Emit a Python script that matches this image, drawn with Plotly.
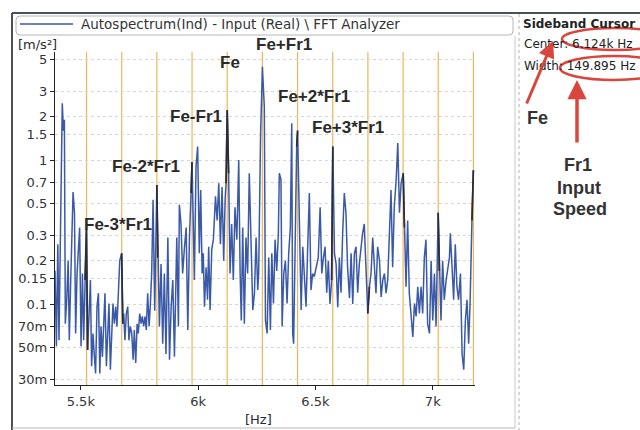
import plotly.graph_objects as go

# ---------------- data ----------------
freq_hz = [
    5373, 5379, 5385, 5390, 5396, 5402, 5407, 5413, 5417, 5421, 5426, 5430, 5434, 5440, 5446, 5451,
    5457, 5463, 5467, 5473, 5478, 5484, 5490, 5495, 5501, 5507, 5512, 5518, 5524, 5529, 5535, 5541,
    5546, 5552, 5558, 5563, 5569, 5575, 5581, 5586, 5592, 5598, 5603, 5609, 5615, 5620, 5626, 5632,
    5637, 5643, 5649, 5654, 5660, 5666, 5674, 5679, 5683, 5688, 5694, 5700, 5705, 5711, 5717, 5723,
    5728, 5734, 5740, 5745, 5751, 5757, 5762, 5768, 5774, 5779, 5785, 5791, 5796, 5802, 5808,
    5815, 5824, 5828, 5835, 5842, 5849, 5856, 5863, 5871, 5878, 5885, 5892, 5899, 5909, 5916, 5920,
    5927, 5934, 5942, 5949, 5956, 5963, 5970, 5974, 5984, 5991, 5998, 6005, 6011, 6017, 6022, 6027,
    6034, 6040, 6045, 6051, 6058, 6065, 6074, 6081, 6088, 6095, 6102, 6109, 6115, 6119, 6124, 6130,
    6136, 6143, 6150, 6157, 6165, 6173, 6179, 6184, 6190, 6197, 6204, 6211, 6218, 6226, 6233, 6240,
    6247, 6254, 6258, 6266, 6274, 6282, 6287,
    6294, 6301, 6308, 6314, 6321, 6328, 6335, 6342, 6346, 6353, 6358, 6365, 6372, 6379, 6386, 6393,
    6399, 6403, 6407, 6413, 6420, 6424, 6432, 6439, 6446, 6453, 6460, 6467, 6474, 6481, 6488, 6495,
    6503, 6512, 6520, 6527, 6534, 6541, 6548, 6555, 6562, 6569, 6574, 6581, 6588, 6595, 6602, 6609,
    6616, 6623, 6630, 6637, 6645, 6652, 6659, 6666, 6673, 6680, 6687, 6694, 6701, 6708, 6716,
    6723, 6730, 6737, 6744, 6751, 6758, 6765, 6773, 6780, 6787, 6794, 6801, 6808, 6815, 6822, 6829,
    6836, 6844, 6851, 6858, 6865, 6874, 6879, 6886, 6893, 6900, 6907, 6915, 6922, 6929, 6936, 6943,
    6950, 6957, 6964, 6971, 6978, 6986, 6993, 7000, 7007, 7014, 7023, 7028, 7035, 7042, 7049, 7057,
    7064, 7071, 7075, 7082, 7089, 7096, 7103, 7110, 7118, 7125, 7132, 7139, 7146, 7153, 7159, 7167,
    7173,
]
amp_ms2 = [
    0.045, 0.225, 0.107, 0.17, 0.051, 0.26, 0.056, 0.28, 1.38, 2.48, 1.6, 1.9, 0.073, 0.107, 0.20, 0.056,
    0.147, 0.34, 0.60, 0.43, 0.0625, 0.163, 0.225, 0.34, 0.051, 0.163, 0.056, 0.147, 0.33, 0.048, 0.096, 0.147,
    0.037, 0.0625, 0.043, 0.033, 0.096, 0.119, 0.033, 0.07, 0.043, 0.077, 0.119, 0.037, 0.0625, 0.101, 0.035, 0.07,
    0.101, 0.073, 0.096, 0.07, 0.107, 0.20, 0.225, 0.073, 0.086, 0.056, 0.086, 0.096, 0.056, 0.07, 0.0625, 0.041,
    0.066, 0.039, 0.073, 0.0625, 0.086, 0.073, 0.082, 0.07, 0.082, 0.066, 0.119, 0.07, 0.096, 0.163, 0.53,
    0.09, 0.67, 0.21, 0.07, 0.19, 0.053, 0.163, 0.045, 0.29, 0.041, 0.096, 0.147, 0.043, 0.29, 0.07, 0.49,
    0.36, 0.163, 0.25, 0.34, 0.066, 0.29, 0.59, 0.97, 0.147, 0.90, 1.24, 0.225, 0.62, 0.163, 0.225, 0.096,
    0.18, 0.107, 0.25, 0.091, 0.24, 0.28, 0.56, 0.38, 0.69, 0.26, 0.65, 0.20, 0.53, 0.69, 2.22, 0.81,
    0.163, 0.36, 0.147, 0.47, 0.28, 1.0, 0.163, 0.077, 0.34, 0.073, 0.29, 0.163, 0.81, 0.28, 0.091, 0.119,
    0.29, 0.125, 0.163, 1.45, 4.44, 2.34, 0.077,
    0.0625, 0.21, 0.066, 0.225, 0.101, 0.28, 0.17, 0.31, 0.81, 0.73, 0.07, 0.163, 0.20, 0.101, 0.225, 0.34,
    1.8, 0.0625, 0.053, 0.28, 1.24, 1.6, 0.38, 0.091, 0.25, 0.147, 0.096, 0.25, 0.59, 0.125, 0.163, 0.155,
    0.18, 0.21, 0.47, 0.163, 0.21, 0.25, 0.12, 0.20, 0.10, 0.147, 1.24, 0.225, 0.19, 0.095, 0.21, 0.12,
    0.31, 0.59, 0.43, 0.18, 0.11, 0.225, 0.10, 0.225, 0.25, 0.12, 0.19, 0.25, 0.31, 0.36, 0.163,
    0.086, 0.132, 0.163, 0.29, 0.18, 0.119, 0.25, 0.20, 0.112, 0.147, 0.163, 0.119, 0.147, 0.28, 0.62, 0.18,
    0.47, 0.73, 1.31, 0.43, 0.69, 0.81, 0.34, 0.132, 0.38, 0.119, 0.086, 0.059, 0.101, 0.082, 0.132, 0.086,
    0.132, 0.086, 0.21, 0.28, 0.073, 0.0625, 0.20, 0.077, 0.163, 0.07, 0.43, 0.17, 0.077, 0.20, 0.107, 0.147,
    0.17, 0.21, 0.31, 0.19, 0.107, 0.26, 0.132, 0.107, 0.163, 0.045, 0.035, 0.077, 0.107, 0.053, 0.101, 0.38,
    0.85,
]

fe_hz = 6124.0          # sideband cursor centre
fr1_hz = 149.895        # sideband cursor width (input speed)
sideband_orders = [-4, -3, -2, -1, 0, 1, 2, 3, 4, 5, 6, 7]
label_texts = ["Fe-3*Fr1", "Fe-2*Fr1", "Fe-Fr1", "Fe", "Fe+Fr1", "Fe+2*Fr1", "Fe+3*Fr1"]

y_tickvals = [0.03, 0.05, 0.07, 0.1, 0.15, 0.2, 0.3, 0.5, 0.7, 1, 1.5, 2, 3, 5]
y_ticktext = ["30m", "50m", "70m", "0.1", "0.15", "0.2", "0.3", "0.5", "0.7", "1", "1.5", "2", "3", "5"]
x_tickvals = [5500, 6000, 6500, 7000]
x_ticktext = ["5.5k", "6k", "6.5k", "7k"]

series_name = "Autospectrum(Ind) - Input (Real) \\ FFT Analyzer"

# ---------------- layout geometry ----------------
W, H = 640, 430
L, R, T, B = 55, 475, 52, 385


def px(x):
    return (x - L) / (R - L)


def py(y):
    return (B - y) / (B - T)


BLUE = "#3a5aa8"
DARK = "#2c2c36"
ORANGE = "#f0b458"
RED = "#d9463e"
TXT = "#2a2a2a"

fig = go.Figure()

# main spectrum
fig.add_trace(go.Scatter(x=freq_hz, y=amp_ms2, mode="lines",
                         line=dict(color=BLUE, width=1.5), name=series_name,
                         showlegend=False))

# sideband cursor highlights (dark segments of the spectrum at the cursor lines)
sideband_hz = [fe_hz + k * fr1_hz for k in sideband_orders]
for f in sideband_hz:
    xs = [fx for fx in freq_hz if abs(fx - f) <= 6.5]
    ys = [a for fx, a in zip(freq_hz, amp_ms2) if abs(fx - f) <= 6.5]
    fig.add_trace(go.Scatter(x=xs, y=ys, mode="lines", line=dict(color=DARK, width=1.7),
                             showlegend=False, hoverinfo="skip"))

shapes = []
# orange sideband cursor lines
for f in sideband_hz:
    shapes.append(dict(type="line", xref="x", yref="paper", x0=f, x1=f, y0=0, y1=1,
                       line=dict(color=ORANGE, width=1.2), layer="below"))

# frame around chart panel
shapes += [
    dict(type="line", xref="paper", yref="paper", x0=px(12), x1=px(640), y0=py(13), y1=py(13),
         line=dict(color="#4a4f5a", width=2)),
    dict(type="line", xref="paper", yref="paper", x0=px(12), x1=px(12), y0=py(13), y1=py(430),
         line=dict(color="#4a4f5a", width=2)),
    dict(type="line", xref="paper", yref="paper", x0=px(515), x1=px(515), y0=py(36), y1=py(428),
         line=dict(color="#c8c8c8", width=1)),
    dict(type="line", xref="paper", yref="paper", x0=px(519), x1=px(519), y0=py(14), y1=py(430),
         line=dict(color="#b0b0b0", width=1, dash="dot")),
    dict(type="line", xref="paper", yref="paper", x0=px(12), x1=px(515), y0=py(428), y1=py(428),
         line=dict(color="#b8b8b8", width=1)),
]
# legend box (rounded)
lx0, lx1, ly0, ly1 = 16, 513, 16, 35
path = (f"M {px(lx0+4)},{py(ly0)} L {px(lx1-4)},{py(ly0)} Q {px(lx1)},{py(ly0)} {px(lx1)},{py(ly0+4)} "
        f"L {px(lx1)},{py(ly1-4)} Q {px(lx1)},{py(ly1)} {px(lx1-4)},{py(ly1)} "
        f"L {px(lx0+4)},{py(ly1)} Q {px(lx0)},{py(ly1)} {px(lx0)},{py(ly1-4)} "
        f"L {px(lx0)},{py(ly0+4)} Q {px(lx0)},{py(ly0)} {px(lx0+4)},{py(ly0)} Z")
shapes.append(dict(type="path", xref="paper", yref="paper", path=path,
                   line=dict(color="#b5b5b5", width=1)))
# legend line sample
shapes.append(dict(type="line", xref="paper", yref="paper", x0=px(20), x1=px(73), y0=py(24), y1=py(24),
                   line=dict(color=BLUE, width=1.5)))
# red ellipses in side panel
shapes += [
    dict(type="circle", xref="paper", yref="paper", x0=px(562), x1=px(668), y0=py(28), y1=py(50),
         line=dict(color=RED, width=2.5)),
    dict(type="circle", xref="paper", yref="paper", x0=px(560), x1=px(668), y0=py(56), y1=py(80),
         line=dict(color=RED, width=2.5)),
]

ann = []
FONT = "DejaVu Sans"
BOLD = "Liberation Sans"


def text(x, y, s, size=13, anchor="center", family=FONT, color=TXT):
    ann.append(dict(xref="paper", yref="paper", x=px(x), y=py(y), text=s, showarrow=False,
                    xanchor=anchor, yanchor="middle", font=dict(family=family, size=size, color=color)))


text(79, 24, series_name, size=13.5, anchor="left", color="#333")
text(37, 44, "[m/s²]", size=13)
text(258, 419, "[Hz]", size=13)

# sideband labels on chart
label_pos = [(118, 225), (146, 166), (196, 116), (230, 62), (284, 45), (314, 97), (348, 128)]
for (lx, ly), s in zip(label_pos, label_texts):
    text(lx, ly, "<b>" + s + "</b>", size=17, family=BOLD)

# side panel
text(521, 24, "<b>Sideband Cursor</b>", size=12, anchor="left", color="#222")
text(522, 44, f"Center: {fe_hz/1000:.3f}k Hz", size=12, anchor="left", color="#222")
text(522, 66, f"Width: {fr1_hz:.3f} Hz", size=12, anchor="left", color="#222")
text(537, 118, "<b>Fe</b>", size=18, family=BOLD, color="#333")
text(578, 165, "<b>Fr1</b>", size=18, family=BOLD, color="#333")
text(579, 188, "<b>Input</b>", size=18, family=BOLD, color="#333")
text(580, 209, "<b>Speed</b>", size=18, family=BOLD, color="#333")

# red arrows
ann.append(dict(xref="paper", yref="paper", x=px(553), y=py(41), ax=-27, ay=64, text="",
                showarrow=True, arrowhead=2, arrowsize=1.1, arrowwidth=3, arrowcolor=RED))
ann.append(dict(xref="paper", yref="paper", x=px(577), y=py(80), ax=0, ay=64, text="",
                showarrow=True, arrowhead=2, arrowsize=1.1, arrowwidth=3.5, arrowcolor=RED))

fig.update_layout(
    width=W, height=H,
    margin=dict(l=L, r=W - R, t=T, b=H - B, pad=0),
    paper_bgcolor="white", plot_bgcolor="white",
    shapes=shapes, annotations=ann, showlegend=False,
    font=dict(family=FONT, size=13, color="#222"),
    xaxis=dict(range=[5390, 7180], tickvals=x_tickvals, ticktext=x_ticktext,
               showline=True, linecolor="#222", linewidth=1.2, ticks="outside", ticklen=4,
               tickcolor="#222", showgrid=False, zeroline=False,
               tickfont=dict(family=FONT, size=13, color="#333")),
    yaxis=dict(type="log", range=[-1.562, 0.75], tickvals=y_tickvals, ticktext=y_ticktext,
               showline=True, linecolor="#222", linewidth=1.2, ticks="outside", ticklen=4,
               tickcolor="#222", showgrid=True, gridcolor="#d6d6d6", griddash="dot",
               zeroline=False, tickfont=dict(family=FONT, size=13, color="#333")),
)

fig.write_html("out.html")
